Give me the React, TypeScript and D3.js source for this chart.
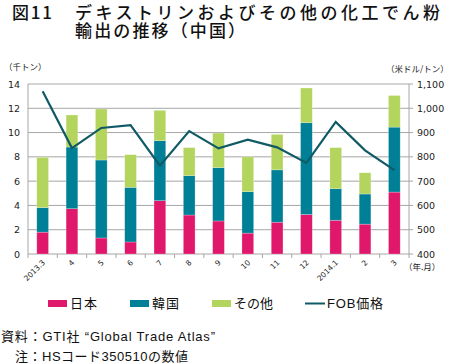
import { scaleBand, scaleLinear, line } from "d3";

// 月別ラベル
const months = ["2013.3", "4", "5", "6", "7", "8", "9", "10", "11", "12", "2014.1", "2", "3"];
// 輸出量（千トン）
const japan = [1.8, 3.73, 1.32, 0.99, 4.39, 3.21, 2.72, 1.72, 2.62, 3.25, 2.78, 2.46, 5.1];
const korea = [2.02, 5.08, 6.42, 4.5, 4.94, 3.24, 4.39, 3.41, 4.31, 7.56, 2.6, 2.48, 5.35];
const others = [4.14, 2.64, 4.2, 2.69, 2.5, 2.31, 2.85, 2.87, 2.92, 2.86, 3.38, 1.75, 2.6];
// FOB価格（米ドル/トン）
const fob = [1070, 836, 919, 931, 764, 906, 835, 871, 839, 775, 944, 827, 745];

const leftTicks = [0, 2, 4, 6, 8, 10, 12, 14];
const rightTicks = [400, 500, 600, 700, 800, 900, 1000, 1100];

const colors = { japan: "#e0186b", korea: "#008096", others: "#b3d55e", fob: "#105a66" };

const JP = "'Noto Sans CJK JP', sans-serif";
const MIX = "'Liberation Sans', 'Noto Sans CJK JP', sans-serif";
const NUM = "'DejaVu Sans', sans-serif";

export default function App() {
  const W = 450;
  const H = 364;
  const left = 28;
  const right = 409;
  const top = 84;
  const bottom = 254;

  const x = scaleBand<string>().domain(months).range([left, right]).paddingInner(0.6).paddingOuter(0.3);
  const yL = scaleLinear().domain([0, 14]).range([bottom, top]);
  const yR = scaleLinear().domain([400, 1100]).range([bottom, top]);
  const step = x.step();

  const fobLine = line<number>()
    .x((_, i) => (x(months[i]) as number) + x.bandwidth() / 2)
    .y((d) => yR(d));

  const stacks = months.map((m, i) => {
    const a = japan[i];
    const b = a + korea[i];
    const c = b + others[i];
    return { m, segs: [[0, a, colors.japan], [a, b, colors.korea], [b, c, colors.others]] as [number, number, string][] };
  });

  // 凡例: [ラベル, 色, 見本x, 文字幅]
  const legend: [string, string, number, number][] = [
    ["日本", colors.japan, 48, 27],
    ["韓国", colors.korea, 130, 27],
    ["その他", colors.others, 212, 39],
  ];

  return (
    <svg width={W} height={H} style={{ position: "absolute", left: 0, top: 0, background: "#fff" }}>
      {/* タイトル */}
      <text x={12} y={19} fontFamily={JP} fontSize={17} fontWeight={500} fill="#111" textLength={40} lengthAdjust="spacing">
        図11
      </text>
      <text x={75} y={19} fontFamily={JP} fontSize={17} fontWeight={500} fill="#111" textLength={365} lengthAdjust="spacing">
        デキストリンおよびその他の化工でん粉
      </text>
      <text x={75} y={36.5} fontFamily={JP} fontSize={17} fontWeight={500} fill="#111" textLength={170} lengthAdjust="spacing">
        輸出の推移（中国）
      </text>

      <text x={4} y={70} fontFamily={JP} fontSize={8.5} fill="#222">（千トン）</text>
      <text x={386} y={72} fontFamily={JP} fontSize={8.5} fill="#222">（米ドル/トン）</text>

      {/* グリッド */}
      {leftTicks.map((t) => (
        <line key={t} x1={left} x2={right} y1={yL(t)} y2={yL(t)} stroke="#a6a6a6" strokeWidth={1} />
      ))}
      <line x1={left} x2={left} y1={top} y2={bottom} stroke="#a6a6a6" />
      <line x1={right} x2={right} y1={top} y2={bottom} stroke="#a6a6a6" />
      {rightTicks.map((t) => (
        <line key={t} x1={right} x2={right + 4} y1={yR(t)} y2={yR(t)} stroke="#a6a6a6" />
      ))}
      {months.map((m, i) => (
        <line key={m} x1={left + i * step} x2={left + i * step} y1={bottom} y2={bottom + 4} stroke="#a6a6a6" />
      ))}
      <line x1={right} x2={right} y1={bottom} y2={bottom + 4} stroke="#a6a6a6" />

      {/* 積み上げ棒 */}
      {stacks.map((s) =>
        s.segs.map(([a, b, c], j) => (
          <rect
            key={s.m + j}
            x={x(s.m)}
            y={yL(b)}
            width={x.bandwidth()}
            height={yL(a) - yL(b)}
            fill={c}
            stroke="#fff"
            strokeOpacity={0.4}
            strokeWidth={0.6}
          />
        ))
      )}

      <path d={fobLine(fob) || ""} fill="none" stroke={colors.fob} strokeWidth={2.2} strokeLinejoin="miter" />

      {/* 軸ラベル */}
      {leftTicks.map((t) => (
        <text key={t} x={20} y={yL(t) + 3.5} textAnchor="end" fontFamily={NUM} fontSize={9.5} fill="#222">
          {t}
        </text>
      ))}
      {rightTicks.map((t) => (
        <text key={t} x={417} y={yR(t) + 3.5} fontFamily={NUM} fontSize={9.5} fill="#222">
          {t >= 1000 ? `${Math.floor(t / 1000)},${String(t % 1000).padStart(3, "0")}` : t}
        </text>
      ))}
      {months.map((m) => {
        const cx = (x(m) as number) + x.bandwidth() / 2 + 3;
        return (
          <text
            key={m}
            transform={`translate(${cx},${bottom + 9}) rotate(-45)`}
            textAnchor="end"
            fontFamily={NUM}
            fontSize={7.5}
            fill="#222"
          >
            {m}
          </text>
        );
      })}
      <text x={404} y={270} fontFamily={JP} fontSize={8.5} fill="#222">（年.月）</text>

      {/* 凡例 */}
      {legend.map(([label, c, lx, tw]) => (
        <g key={label}>
          <rect x={lx} y={300} width={19} height={7} fill={c} />
          <text x={lx + 22} y={308} fontFamily={JP} fontSize={13} fill="#111" textLength={tw} lengthAdjust="spacing">
            {label}
          </text>
        </g>
      ))}
      <line x1={305} x2={325} y1={303.5} y2={303.5} stroke={colors.fob} strokeWidth={2} />
      <text x={327} y={308} fontFamily={MIX} fontSize={13} fill="#111" textLength={56} lengthAdjust="spacing">
        FOB価格
      </text>

      {/* 出典 */}
      <text x={1} y={341} fontFamily={MIX} fontSize={13} fill="#111" textLength={214} lengthAdjust="spacing">
        資料：GTI社 “Global Trade Atlas”
      </text>
      <text x={15} y={361} fontFamily={MIX} fontSize={13} fill="#111" textLength={173} lengthAdjust="spacing">
        注：HSコード350510の数値
      </text>
    </svg>
  );
}
